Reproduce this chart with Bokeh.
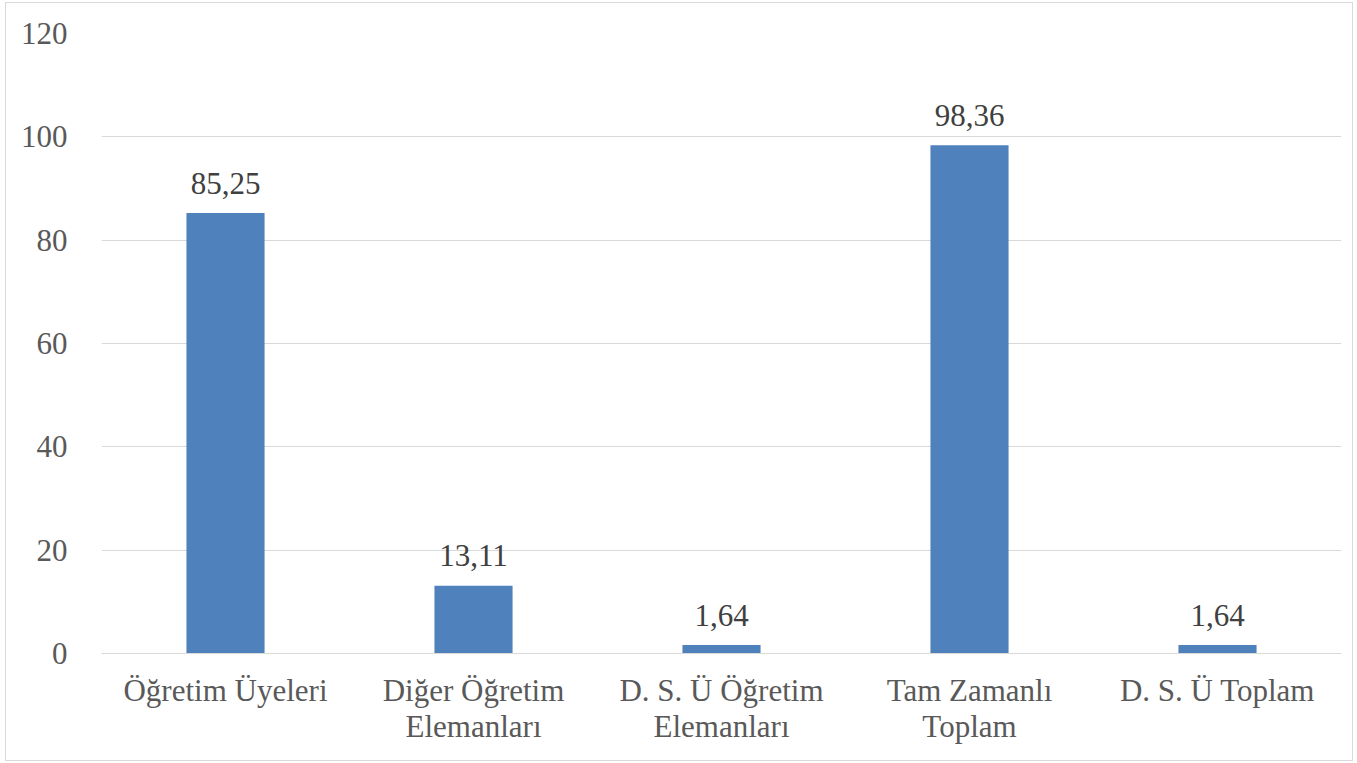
from bokeh.plotting import figure
from bokeh.models import ColumnDataSource, FixedTicker
from bokeh.core.properties import value
from bokeh.embed import file_html
from bokeh.resources import INLINE

categories = ["Öğretim Üyeleri", "Diğer Öğretim\nElemanları", "D. S. Ü Öğretim\nElemanları",
              "Tam Zamanlı\nToplam", "D. S. Ü Toplam"]
values = [85.25, 13.11, 1.64, 98.36, 1.64]
labels = [f"{v:.2f}".replace(".", ",") for v in values]
y_ticks = [0, 20, 40, 60, 80, 100, 120]

FONT = "Liberation Serif"

src = ColumnDataSource(dict(cat=categories, val=values, lab=labels))

p = figure(x_range=categories, y_range=(0, 120), width=1348, height=759,
           output_backend="svg", toolbar_location=None,
           min_border_left=95, min_border_right=13, min_border_top=30, min_border_bottom=109)
p.styles = {"border": "1px solid #d9d9d9", "box-sizing": "border-box",
            "margin-left": "5px", "margin-top": "2px"}
p.outline_line_color = None
p.x_range.range_padding = 0

p.vbar(x="cat", top="val", width=0.315, source=src, color="#4F81BD", line_color=None)
p.text(x="cat", y="val", text="lab", source=src, text_align="center", text_baseline="middle",
       y_offset=-30, text_font=value(FONT), text_font_size="31px", text_color="#404040")

p.xgrid.grid_line_color = None
p.ygrid.grid_line_color = "#d9d9d9"
p.ygrid.grid_line_width = 1
p.yaxis.ticker = FixedTicker(ticks=y_ticks)

for ax in (p.xaxis, p.yaxis):
    ax.major_tick_line_color = None
    ax.minor_tick_line_color = None
    ax.major_label_text_font = FONT
    ax.major_label_text_font_size = "31px"
    ax.major_label_text_color = "#595959"

p.yaxis.axis_line_color = None
p.yaxis.major_label_standoff = 28
p.xaxis.axis_line_color = "#d9d9d9"
p.xaxis.axis_line_width = 1
p.xaxis.major_label_standoff = 13
p.xaxis.major_label_text_line_height = 1.05

open("out.html", "w").write(file_html(p, INLINE))
